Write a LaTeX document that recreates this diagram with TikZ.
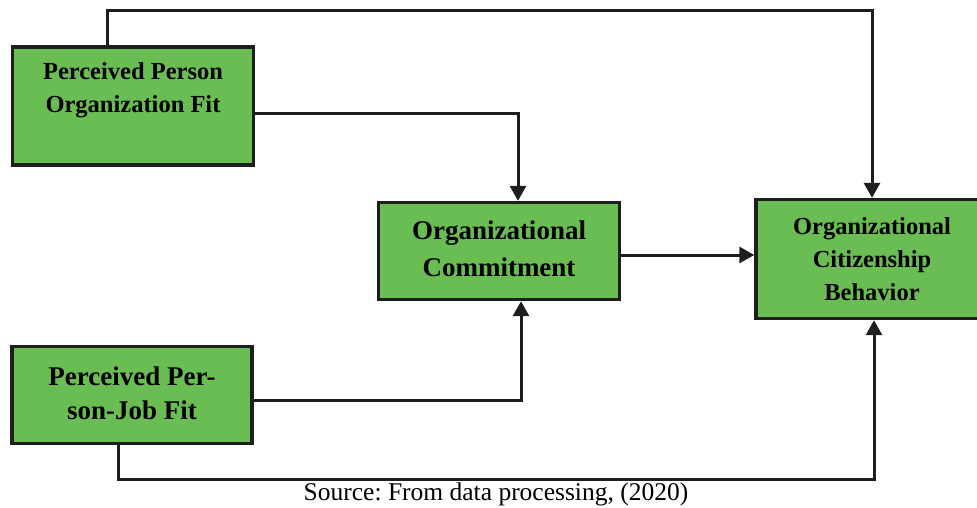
\documentclass[tikz,border=0pt]{standalone}
\usepackage{fontspec}
\setmainfont{Liberation Serif}
\usetikzlibrary{arrows.meta}
\definecolor{boxgreen}{RGB}{106,189,82}
\definecolor{ink}{RGB}{30,30,30}
\frenchspacing
\begin{document}
\begin{tikzpicture}[x=1pt,y=-1pt,
  box/.style={draw=ink,line width=3.4pt,fill=boxgreen,inner sep=0pt},
  lbl/.style={align=center,font=\bfseries,text=black,inner sep=0pt},
  conn/.style={draw=ink,line width=3pt},
  arr/.style={conn,-{Triangle[length=15pt,width=16pt]}}]
\useasboundingbox (0,0) rectangle (977,507);
% boxes
\node[box,minimum width=241pt,minimum height=118pt] (ppof) at (133,106) {};
\node[lbl,font=\bfseries\fontsize{24.5}{33}\selectfont] (ppoft) at (133,90) {Perceived Person\\Organization Fit};
\node[box,minimum width=240pt,minimum height=97pt] (ppjf) at (132,395) {};
\node[lbl,font=\bfseries\fontsize{27}{34}\selectfont] (ppjft) at (132,393) {Perceived Per-\\son-Job Fit};
\node[box,minimum width=241pt,minimum height=97pt] (oc) at (499,251) {};
\node[lbl,font=\bfseries\fontsize{27}{37}\selectfont] (oct) at (499,249) {Organizational\\Commitment};
\node[box,minimum width=224pt,minimum height=119pt] (ocb) at (868,259) {};
\node[lbl,font=\bfseries\fontsize{24.5}{33}\selectfont] (ocbt) at (872,259) {Organizational\\Citizenship\\Behavior};
% connectors
\draw[arr] ([xshift=-26pt]ppof.north) -- ++(0,-35) -| ([xshift=4pt]ocb.north);
\draw[arr] ([yshift=-7pt]ppof.east) -| ([xshift=19pt]oc.north);
\draw[arr] ([yshift=-4pt]oc.east) -- ([yshift=-4pt]oc.east -| ocb.west);
\draw[arr] ([yshift=-5pt]ppjf.east) -| ([xshift=22pt]oc.south);
\draw[arr] ([xshift=-14pt]ppjf.south) -- ++(0,34) -| ([xshift=6pt]ocb.south);
% caption
\node[font=\fontsize{25.5}{30}\selectfont,inner sep=0pt] (cap) at (496,494) {Source: From data processing, (2020)};
\end{tikzpicture}
\end{document}
